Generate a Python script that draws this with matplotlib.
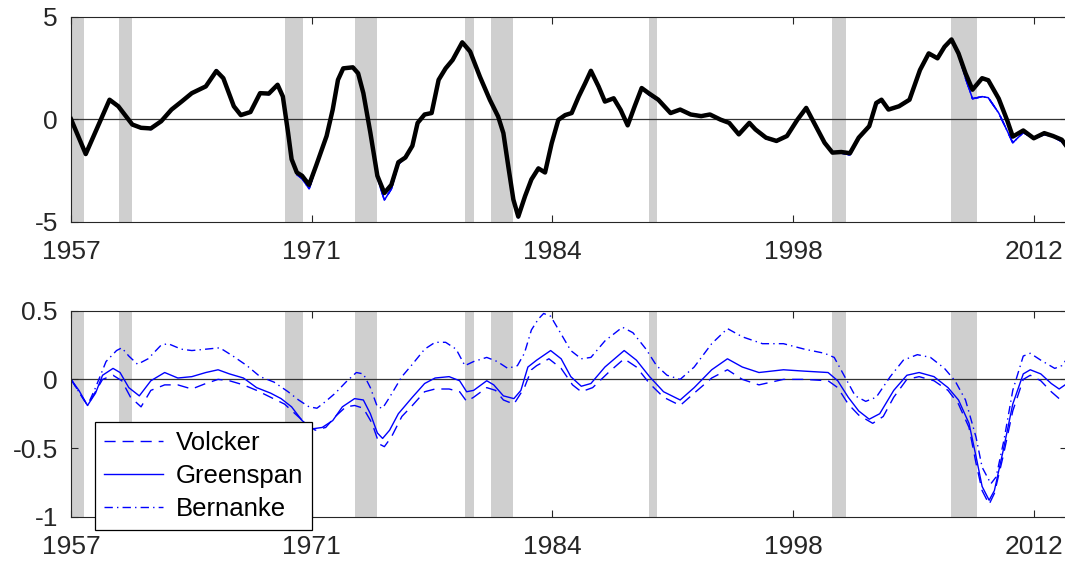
import matplotlib
matplotlib.use("Agg")
import matplotlib.pyplot as plt

plt.rcParams['font.family'] = ['Liberation Sans', 'DejaVu Sans']
plt.rcParams['axes.unicode_minus'] = False

# NBER recessions (start, end) in decimal years
recessions = [(1957.5, 1958.25), (1960.25, 1961.0), (1969.75, 1970.75),
              (1973.75, 1975.0), (1980.0, 1980.5), (1981.5, 1982.75),
              (1990.5, 1991.0), (2001.0, 2001.75), (2007.75, 2009.25)]

# Top panel: data (black) and counterfactuals (blue)
top_t = [1957.5, 1958.34, 1959.7, 1960.2, 1961.0, 1961.5, 1962.06, 1962.65, 1963.24, 1963.83,
         1964.4, 1965.2, 1965.8, 1966.2, 1966.8, 1967.2, 1967.75, 1968.3, 1968.8, 1969.3,
         1969.6, 1969.9, 1970.1, 1970.4, 1970.7, 1971.1, 1971.5, 1972.1, 1972.45, 1972.75,
         1973.05, 1973.6, 1973.9, 1974.2, 1974.6, 1975.0, 1975.4, 1975.8, 1976.2, 1976.6,
         1977.0, 1977.3, 1977.7, 1978.1, 1978.5, 1978.9, 1979.3, 1979.85, 1980.3, 1980.86,
         1981.43, 1981.9, 1982.2, 1982.48, 1982.77, 1983.05, 1983.44, 1983.8, 1984.2, 1984.58,
         1984.96, 1985.34, 1985.73, 1986.1, 1986.5, 1986.87, 1987.2, 1987.64, 1988.0, 1988.5,
         1988.9, 1989.3, 1989.7, 1990.1, 1990.5, 1991.05, 1991.75, 1992.3, 1992.9, 1993.5,
         1994.0, 1994.6, 1995.1, 1995.65, 1996.25, 1996.6, 1997.2, 1997.8, 1998.4, 1999.0,
         1999.5, 1999.95, 2000.55, 2001.0, 2001.5, 2002.0, 2002.5, 2003.1, 2003.5, 2003.8,
         2004.2, 2004.8, 2005.4, 2006.0, 2006.5, 2007.0, 2007.4, 2007.8, 2008.2, 2008.6,
         2009.0, 2009.55, 2009.9, 2010.5, 2011.0, 2011.3, 2011.9, 2012.5, 2013.1, 2013.6,
         2014.1, 2014.4]
top_data = [0.0, -1.7, 0.95, 0.63, -0.26, -0.42, -0.45, -0.1, 0.47, 0.87,
            1.27, 1.6, 2.35, 2.0, 0.63, 0.2, 0.35, 1.27, 1.25, 1.68,
            1.11, -0.66, -1.95, -2.6, -2.76, -3.2, -2.27, -0.82, 0.47, 1.92,
            2.48, 2.53, 2.24, 1.27, -0.66, -2.76, -3.6, -3.2, -2.1, -1.87,
            -1.3, -0.18, 0.23, 0.3, 1.92, 2.48, 2.89, 3.75, 3.3, 2.07,
            0.94, 0.13, -0.68, -2.3, -3.92, -4.75, -3.75, -2.94, -2.4, -2.6,
            -1.17, -0.03, 0.2, 0.3, 1.1, 1.75, 2.36, 1.59, 0.86, 1.02,
            0.45, -0.3, 0.63, 1.52, 1.27, 0.95, 0.3, 0.47, 0.23, 0.15,
            0.23, -0.02, -0.18, -0.74, -0.18, -0.5, -0.9, -1.06, -0.82, -0.02,
            0.55, -0.18, -1.15, -1.63, -1.6, -1.66, -0.9, -0.34, 0.79, 0.95,
            0.47, 0.63, 0.95, 2.4, 3.21, 2.97, 3.53, 3.89, 3.21, 2.24,
            1.44, 2.0, 1.9, 1.0, -0.1, -0.85, -0.55, -0.93, -0.68, -0.82,
            -1.0, -1.35]
top_cf = [0.0, -1.75, 0.9, 0.6, -0.3, -0.45, -0.5, -0.1, 0.45, 0.85,
          1.25, 1.6, 2.4, 2.0, 0.6, 0.2, 0.35, 1.25, 1.2, 1.65,
          1.05, -0.7, -2.0, -2.7, -2.9, -3.4, -2.35, -0.85, 0.45, 1.9,
          2.45, 2.5, 2.2, 1.2, -0.7, -2.85, -3.95, -3.4, -2.2, -1.9,
          -1.35, -0.2, 0.2, 0.3, 1.9, 2.45, 2.85, 3.7, 3.25, 2.05,
          0.9, 0.1, -0.7, -2.35, -4.0, -4.8, -3.7, -2.9, -2.35, -2.6,
          -1.15, 0.0, 0.2, 0.3, 1.1, 1.75, 2.3, 1.5, 0.85, 1.05,
          0.4, -0.3, 0.6, 1.5, 1.2, 0.9, 0.3, 0.45, 0.25, 0.2,
          0.25, 0.0, -0.2, -0.75, -0.2, -0.55, -0.95, -1.1, -0.85, -0.05,
          0.5, -0.25, -1.2, -1.65, -1.65, -1.75, -0.95, -0.4, 0.7, 0.9,
          0.45, 0.6, 0.9, 2.35, 3.15, 2.95, 3.5, 3.85, 3.15, 2.0,
          1.0, 1.1, 1.05, 0.3, -0.6, -1.15, -0.65, -0.95, -0.75, -0.85,
          -1.1, -1.4]

# Bottom panel: differences by chairman
volcker_t = [1957.5, 1958.44, 1959.3, 1959.9, 1960.4, 1960.9, 1961.5, 1962.06, 1962.85, 1963.6,
             1964.4, 1965.2, 1965.9, 1966.55, 1967.35, 1968.1, 1968.9, 1969.7, 1970.3, 1970.9,
             1971.45, 1972.05, 1972.6, 1973.2, 1973.7, 1974.2, 1974.7, 1975.1, 1975.4, 1975.8,
             1976.4, 1977.0, 1977.7, 1978.3, 1979.1, 1979.7, 1980.1, 1980.5, 1981.25, 1981.75,
             1982.2, 1982.8, 1983.4, 1983.8, 1984.1, 1984.8, 1985.5, 1986.15, 1986.65, 1987.3,
             1988.2, 1989.1, 1989.8, 1990.55, 1991.35, 1992.3, 1993.1, 1994.1, 1995.0, 1995.85,
             1996.8, 1998.2, 1999.4, 2000.75, 2001.3, 2001.9, 2002.5, 2003.3, 2003.9, 2004.5,
             2005.25, 2005.95, 2006.8, 2007.6, 2008.2, 2008.8, 2009.2, 2009.55, 2009.95, 2010.25,
             2010.75, 2011.3, 2011.9, 2012.3, 2012.9, 2013.5, 2013.95, 2014.4]
volcker = [0.0, -0.19, 0.0, 0.03, -0.01, -0.13, -0.2, -0.08, -0.04, -0.04,
           -0.07, -0.03, 0.0, -0.01, -0.04, -0.08, -0.13, -0.18, -0.25, -0.32,
           -0.37, -0.35, -0.27, -0.2, -0.19, -0.21, -0.32, -0.47, -0.49, -0.42,
           -0.27, -0.19, -0.09, -0.07, -0.07, -0.09, -0.16, -0.13, -0.06, -0.08,
           -0.15, -0.18, -0.06, 0.07, 0.1, 0.15, 0.08, -0.04, -0.09, -0.06,
           0.05, 0.15, 0.09, -0.03, -0.13, -0.19, -0.1, 0.01, 0.07, 0.0,
           -0.04, 0.0, 0.0, -0.01, -0.06, -0.18, -0.26, -0.32, -0.27, -0.13,
           0.0, 0.02, -0.01, -0.08, -0.18, -0.35, -0.61, -0.81, -0.91, -0.83,
           -0.56, -0.23, 0.0, 0.03, -0.01, -0.09, -0.14, -0.15]

greenspan_t = [1957.5, 1957.95, 1958.44, 1958.9, 1959.3, 1959.9, 1960.3, 1960.8, 1961.4, 1962.06,
               1962.85, 1963.6, 1964.4, 1965.2, 1965.9, 1966.55, 1967.35, 1968.1, 1968.9, 1969.5,
               1970.1, 1970.7, 1971.3, 1971.85, 1972.45, 1973.0, 1973.7, 1974.2, 1974.6, 1975.0,
               1975.3, 1975.7, 1976.2, 1977.0, 1977.7, 1978.3, 1979.1, 1979.7, 1980.1, 1980.5,
               1981.25, 1981.65, 1982.2, 1982.8, 1983.2, 1983.6, 1984.1, 1984.9, 1985.5, 1986.05,
               1986.65, 1987.2, 1988.0, 1989.1, 1989.8, 1990.55, 1991.35, 1992.3, 1993.1, 1994.1,
               1995.0, 1995.85, 1996.8, 1998.2, 1999.4, 2000.75, 2001.3, 2001.9, 2002.5, 2003.1,
               2003.7, 2004.5, 2005.25, 2005.95, 2006.8, 2007.6, 2008.2, 2008.8, 2009.2, 2009.55,
               2009.95, 2010.25, 2010.75, 2011.3, 2011.9, 2012.3, 2012.9, 2013.5, 2013.95, 2014.4]
greenspan = [0.0, -0.08, -0.19, -0.1, 0.03, 0.08, 0.05, -0.06, -0.12, -0.01,
             0.05, 0.01, 0.02, 0.05, 0.07, 0.04, 0.01, -0.06, -0.1, -0.14,
             -0.2, -0.3, -0.36, -0.35, -0.3, -0.2, -0.14, -0.15, -0.25, -0.39,
             -0.43, -0.37, -0.25, -0.13, -0.03, 0.01, 0.02, -0.01, -0.09, -0.08,
             -0.01, -0.04, -0.12, -0.14, -0.08, 0.09, 0.14, 0.21, 0.15, 0.02,
             -0.05, -0.03, 0.09, 0.21, 0.14, 0.02, -0.09, -0.15, -0.06, 0.07,
             0.15, 0.09, 0.05, 0.07, 0.06, 0.05, -0.01, -0.13, -0.23, -0.29,
             -0.25, -0.08, 0.03, 0.05, 0.02, -0.06, -0.15, -0.32, -0.56, -0.78,
             -0.88, -0.81, -0.52, -0.18, 0.04, 0.07, 0.04, -0.03, -0.07, -0.03]

bernanke_t = [1957.5, 1958.44, 1958.9, 1959.5, 1960.1, 1960.4, 1960.8, 1961.3, 1961.9, 1962.65,
              1963.05, 1963.8, 1964.4, 1965.2, 1966.0, 1966.75, 1967.55, 1968.3, 1969.1, 1969.9,
              1970.5, 1971.1, 1971.55, 1972.05, 1972.6, 1973.2, 1973.8, 1974.2, 1974.6, 1975.0,
              1975.3, 1975.7, 1976.4, 1977.0, 1977.7, 1978.3, 1978.9, 1979.5, 1980.0, 1980.5,
              1981.25, 1981.85, 1982.45, 1983.0, 1983.4, 1983.8, 1984.2, 1984.5, 1984.9, 1985.5,
              1986.05, 1986.65, 1987.2, 1988.0, 1989.0, 1989.6, 1990.35, 1990.95, 1991.55, 1992.3,
              1993.1, 1994.1, 1995.0, 1995.85, 1997.0, 1998.2, 1999.4, 2000.55, 2001.1, 2001.7,
              2002.3, 2002.9, 2003.5, 2004.3, 2005.05, 2005.85, 2006.6, 2007.4, 2008.0, 2008.6,
              2009.2, 2009.55, 2010.05, 2010.35, 2010.8, 2011.3, 2011.9, 2012.3, 2012.9, 2013.7,
              2014.1, 2014.4]
bernanke = [0.0, -0.19, -0.06, 0.13, 0.21, 0.23, 0.17, 0.11, 0.15, 0.25,
            0.26, 0.22, 0.21, 0.22, 0.23, 0.17, 0.1, 0.02, -0.02, -0.09,
            -0.15, -0.2, -0.21, -0.16, -0.1, -0.02, 0.05, 0.04, -0.06, -0.2,
            -0.21, -0.13, 0.02, 0.11, 0.22, 0.27, 0.27, 0.22, 0.1, 0.13,
            0.16, 0.13, 0.08, 0.1, 0.19, 0.36, 0.44, 0.48, 0.46, 0.33,
            0.21, 0.15, 0.16, 0.28, 0.38, 0.34, 0.22, 0.1, 0.03, 0.0,
            0.09, 0.26, 0.37, 0.31, 0.26, 0.26, 0.22, 0.19, 0.16, 0.02,
            -0.12, -0.16, -0.13, 0.02, 0.14, 0.18, 0.16, 0.08, -0.01, -0.15,
            -0.42, -0.64, -0.76, -0.71, -0.44, -0.08, 0.17, 0.19, 0.14, 0.08,
            0.1, 0.15]

tick_pos = [1957.5, 1971.25, 1985.0, 1998.75, 2012.5]
tick_lab = ['1957', '1971', '1984', '1998', '2012']

fig = plt.figure(figsize=(10.65, 5.62), dpi=100)
ax1 = fig.add_axes([0.0667, 0.6055, 0.9352, 0.3648])
ax2 = fig.add_axes([0.0667, 0.0806, 0.9352, 0.3665])

dark = '#262626'
for ax in (ax1, ax2):
    for a, b in recessions:
        ax.axvspan(a, b, color='#cfcfcf', lw=0, zorder=0)
    ax.axhline(0, color='#333333', lw=0.9, zorder=1)
    ax.set_xlim(1957.5, 2014.4)
    ax.set_xticks(tick_pos)
    ax.set_xticklabels(tick_lab)
    ax.tick_params(direction='in', length=5, width=0.8, top=True, right=True,
                   labelsize=19, colors=dark)
    ax.tick_params(axis='x', pad=13)
    ax.tick_params(axis='y', pad=9.5)
    for s in ax.spines.values():
        s.set_color(dark)
        s.set_linewidth(0.8)

# top panel
ax1.plot(top_t, top_cf, color='blue', lw=1.1, ls=(0, (8, 5)), zorder=2)
ax1.plot(top_t, top_cf, color='blue', lw=1.1, ls='-', zorder=2)
ax1.plot(top_t, top_cf, color='blue', lw=1.1, ls=(0, (6, 3, 1, 3)), zorder=2)
ax1.plot(top_t, top_data, color='black', lw=3.2, zorder=3, solid_joinstyle='round')
ax1.set_ylim(-5, 5)
ax1.set_yticks([-5, 0, 5])
ax1.set_yticklabels(['-5', '0', '5'])

# bottom panel
l1, = ax2.plot(volcker_t, volcker, color='blue', lw=1.0, ls=(0, (8, 5)), zorder=2)
l2, = ax2.plot(greenspan_t, greenspan, color='blue', lw=1.0, ls='-', zorder=2)
l3, = ax2.plot(bernanke_t, bernanke, color='blue', lw=1.0, ls=(0, (6, 3, 1, 3)), zorder=2)
ax2.set_ylim(-1, 0.5)
ax2.set_yticks([-1, -0.5, 0, 0.5])
ax2.set_yticklabels(['-1', '-0.5', '0', '0.5'])

leg = ax2.legend([l1, l2, l3], ['Volcker', 'Greenspan', 'Bernanke'],
                 loc='lower left', bbox_to_anchor=(0.024, -0.065),
                 fontsize=18.5, frameon=True, fancybox=False, framealpha=1,
                 edgecolor='black', borderpad=0.35, labelspacing=0.36,
                 handlelength=2.3, handletextpad=0.5, borderaxespad=0)
leg.get_frame().set_linewidth(0.9)
leg.set_zorder(5)

fig.savefig('out.png', dpi=100)
